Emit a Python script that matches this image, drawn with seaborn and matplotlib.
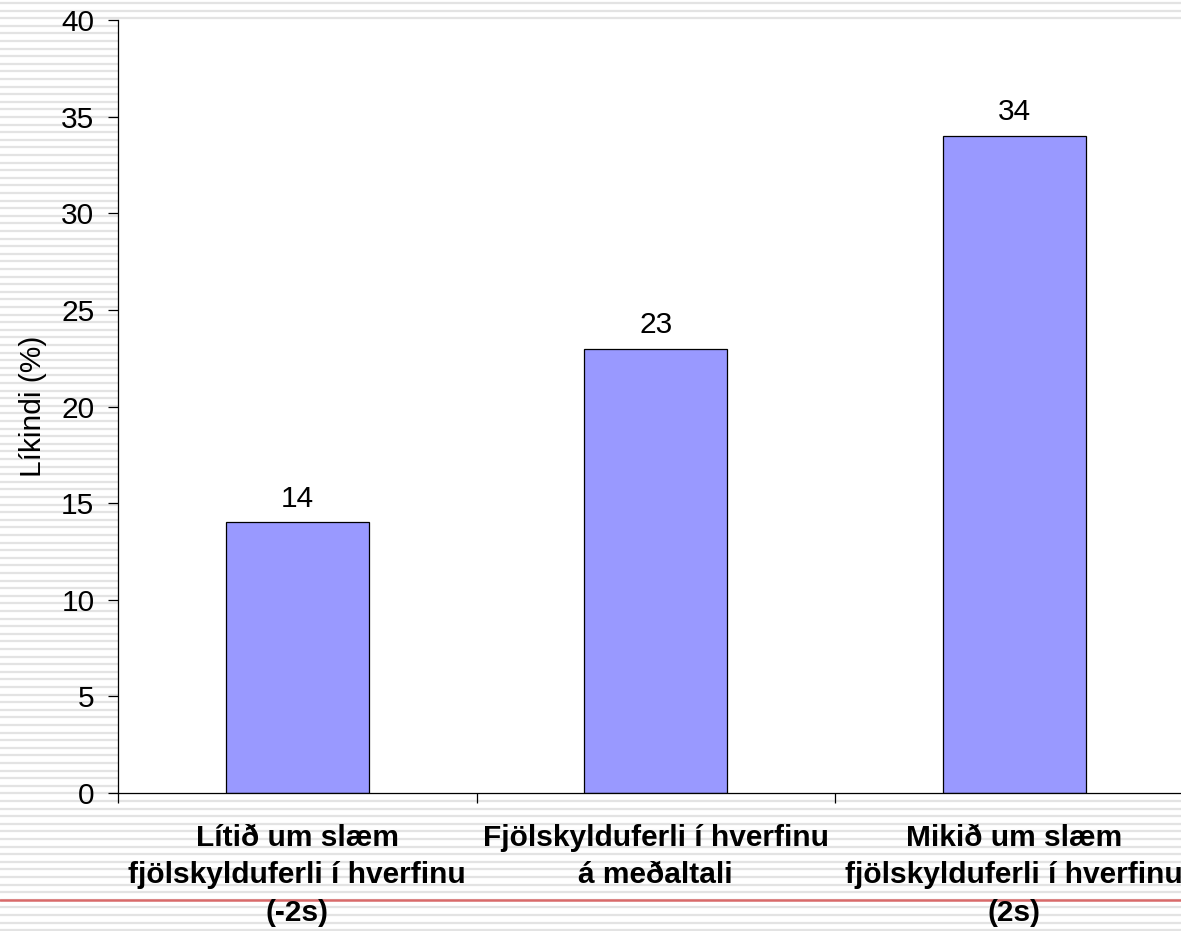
import numpy as np
import pandas as pd
import matplotlib
matplotlib.use("Agg")
import matplotlib.pyplot as plt
import seaborn as sns

# ---- data ----
categories = [
    "Lítið um slæm\nfjölskylduferli í hverfinu\n(-2s)",
    "Fjölskylduferli í hverfinu\ná meðaltali",
    "Mikið um slæm\nfjölskylduferli í hverfinu\n(2s)",
]
values = [14, 23, 34]
y_ticks = [0, 5, 10, 15, 20, 25, 30, 35, 40]
y_label = "Líkindi (%)"

df = pd.DataFrame({"cat": categories, "val": values})

sns.set_style("white")
plt.rcParams["font.family"] = ["Liberation Sans", "DejaVu Sans"]
plt.rcParams["text.color"] = "black"
plt.rcParams["axes.labelcolor"] = "black"
plt.rcParams["xtick.color"] = "black"
plt.rcParams["ytick.color"] = "black"

FS = 21.5
W, H = 1181, 931
fig = plt.figure(figsize=(W / 100, H / 100), dpi=100)
fig.patch.set_facecolor("white")

# striped slide background + red rule
bg = fig.add_axes([0, 0, 1, 1], zorder=-10)
bg.set_xlim(0, W)
bg.set_ylim(H, 0)
bg.axis("off")
for yy in np.arange(3, H, 7.6):
    bg.axhline(yy, color="#e3e3e3", lw=1.6)
bg.axhline(900, color="#d96a6a", lw=1.8)

# main plot area (runs slightly past the right edge, like the original slide)
ax = fig.add_axes([118 / W, (H - 793) / H, 1075.5 / W, 773 / H])
ax.set_facecolor("white")

sns.barplot(data=df, x="cat", y="val", color="#9999FF", width=0.4,
            edgecolor="black", linewidth=0.9, saturation=1, ax=ax)

ax.bar_label(ax.containers[0], labels=[str(v) for v in values],
             padding=7, fontsize=FS, color="black")

ax.set_ylim(0, 40)
ax.set_xlim(-0.5, 2.5)
ax.set_yticks(y_ticks)
ax.tick_params(axis="y", which="major", direction="out", length=7, width=0.9,
               labelsize=FS, pad=10, left=True)

# tick marks at category boundaries, labels at centres
ax.set_xticks([-0.5, 0.5, 1.5, 2.5])
ax.set_xticklabels([])
ax.set_xticks([0, 1, 2], minor=True)
ax.set_xticklabels(categories, minor=True, fontsize=FS, fontweight="bold",
                   linespacing=1.45)
ax.tick_params(axis="x", which="major", direction="out", length=7, width=0.9,
               bottom=True)
ax.tick_params(axis="x", which="minor", length=0, pad=22)

ax.set_xlabel("")
ax.set_ylabel(y_label, fontsize=FS)
ax.yaxis.set_label_coords(-0.066, 0.5)

for s in ["top", "right"]:
    ax.spines[s].set_visible(False)
for s in ["left", "bottom"]:
    ax.spines[s].set_color("black")
    ax.spines[s].set_linewidth(0.9)

fig.savefig("out.png", dpi=100)
